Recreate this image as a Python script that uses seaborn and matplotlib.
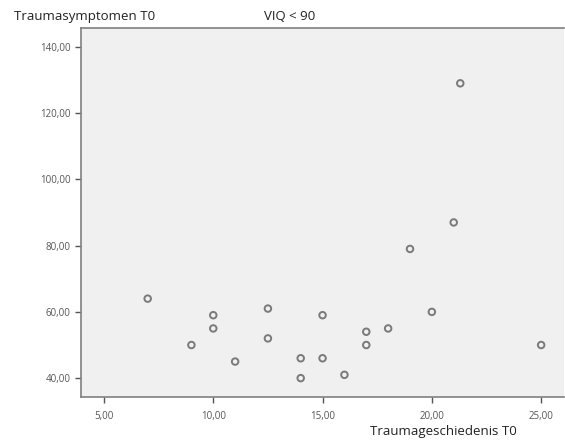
import matplotlib
matplotlib.use("Agg")
import matplotlib.pyplot as plt
import seaborn as sns
import pandas as pd
from matplotlib.ticker import FuncFormatter

# values
trauma_history = [7, 9, 10, 10, 11, 12.5, 12.5, 14, 14, 15, 15, 16, 17, 17, 18, 19, 20, 21, 21.3, 25]
trauma_symptoms = [64, 50, 59, 55, 45, 61, 52, 46, 40, 59, 46, 41, 54, 50, 55, 79, 60, 87, 129, 50]
x_ticks = [5, 10, 15, 20, 25]
y_ticks = [40, 60, 80, 100, 120, 140]

df = pd.DataFrame({"x": trauma_history, "y": trauma_symptoms})

sns.set_style("white")
plt.rcParams["font.family"] = ["Open Sans", "DejaVu Sans"]

fig = plt.figure(figsize=(5.65, 4.43), dpi=100)
ax = fig.add_axes([0.1434, 0.1038, 0.855, 0.833])
ax.set_facecolor("#f0f0f0")

sns.scatterplot(data=df, x="x", y="y", ax=ax, marker="o", s=22,
                facecolor="none", edgecolor="#7a7a7a", linewidth=1.4)

ax.set_xlim(3.95, 26.05)
ax.set_ylim(34.3, 145.7)
ax.set_xticks(x_ticks)
ax.set_yticks(y_ticks)
fmt = FuncFormatter(lambda v, p: f"{v:.2f}".replace(".", ","))
ax.xaxis.set_major_formatter(fmt)
ax.yaxis.set_major_formatter(fmt)
# seaborn's white style hides tick marks, switch them back on
ax.tick_params(axis="both", labelsize=7, labelcolor="#555555", length=4,
               width=1, color="#555555", direction="out",
               bottom=True, left=True)
ax.tick_params(axis="x", pad=6)

for side in ["left", "bottom", "top"]:
    ax.spines[side].set_color("#808080")
    ax.spines[side].set_linewidth(1.2)
ax.spines["right"].set_visible(False)

ax.set_xlabel("")
ax.set_ylabel("")
fig.text(0.025, 0.962, "Traumasymptomen T0", fontsize=9.5, color="#222222", va="center")
fig.text(0.513, 0.962, "VIQ < 90", fontsize=9.5, color="#222222", va="center", ha="center")
fig.text(0.655, 0.025, "Traumageschiedenis T0", fontsize=9.5, color="#222222", va="center")

fig.savefig("out.png", dpi=100)
